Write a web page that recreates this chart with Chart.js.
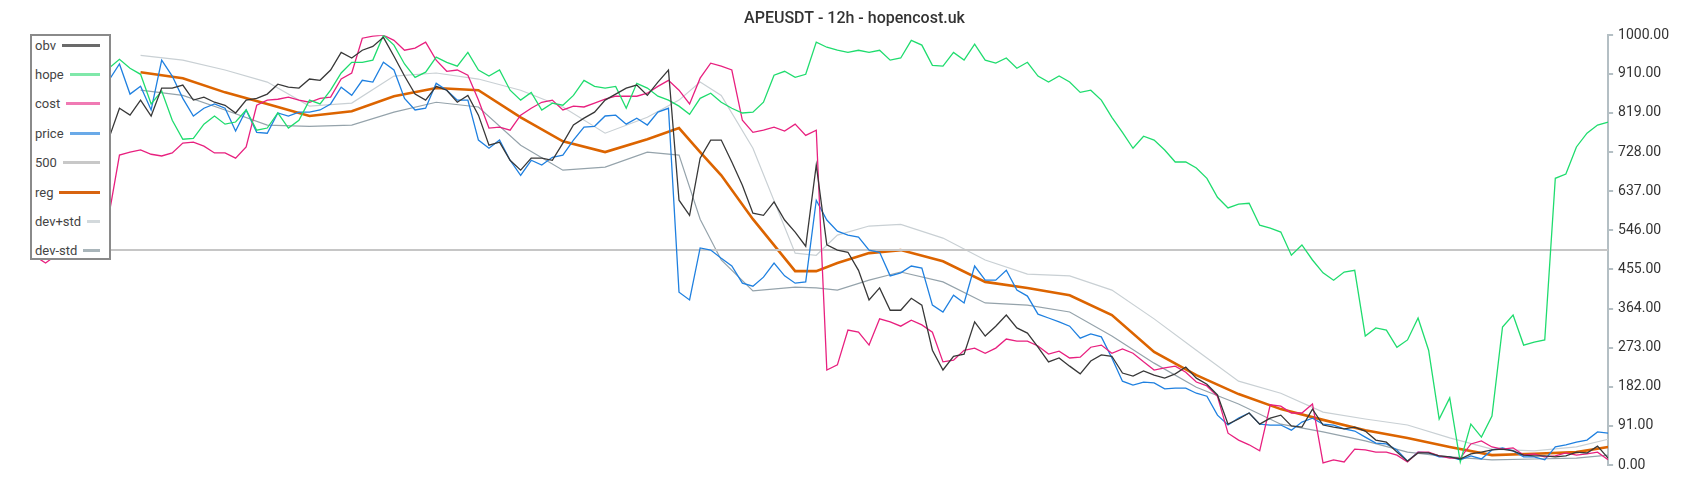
<!DOCTYPE html>
<html>
<head>
<meta charset="utf-8">
<script src="https://cdn.jsdelivr.net/npm/chart.js@4/dist/chart.umd.min.js"></script>
<style>
  body { margin: 0; background: #fff; }
  #wrap { position: relative; width: 1700px; height: 500px; }
  #legend { position: absolute; left: 30px; top: 34px; width: 77px; height: 222px; border: 2px solid #8a8a8a; background: #fff;
            font-family: Roboto, sans-serif; font-size: 13px; color: #444; }
  .row { position: absolute; left: 3px; right: 9px; height: 16px; display: flex; align-items: center; }
  .row .sw { flex: 1; margin-left: 6px; border-top: 3px solid; }
</style>
</head>
<body>
<div id="wrap">
  <canvas id="chart"></canvas>
  <div id="legend"></div>
</div>
<script>
// 12h candles, every second candle
const obv = [791,807,784,802,779,798,774,760,830,814,
  849,812,877,877,884,849,856,844,837,819,
  849,853,863,886,879,877,898,895,919,960,
  947,965,974,995,951,905,863,849,881,872,
  844,860,814,744,751,709,686,714,714,709,
  749,791,807,821,849,863,877,884,860,891,
  919,616,581,714,756,756,705,651,586,581,
  612,570,542,509,698,512,500,495,453,384,
  412,360,360,388,372,267,221,253,258,333,
  300,323,349,319,307,274,240,249,230,212,
  242,256,253,214,207,219,209,202,212,228,
  202,188,163,95,107,121,95,109,116,91,
  88,130,93,88,84,88,79,58,53,30,
  9,28,28,21,19,14,26,30,35,37,
  33,23,21,21,19,21,30,28,44,16];

const hope = [919,923,914,930,919,928,914,923,944,923,
  909,840,870,802,758,760,793,812,793,798,
  826,779,784,819,784,802,849,840,872,912,
  937,937,942,1000,977,933,902,914,949,937,
  928,960,919,905,919,872,849,867,826,842,
  837,860,895,881,877,881,830,888,877,858,
  849,835,816,853,865,844,830,819,821,844,
  907,916,902,909,984,972,965,960,965,960,
  965,942,947,988,977,930,928,960,942,979,
  942,935,947,923,937,905,891,905,891,867,
  872,849,809,774,737,765,756,733,705,705,
  691,667,623,598,607,609,558,551,542,488,
  512,477,447,430,449,453,300,319,314,274,
  291,342,267,107,156,7,95,65,114,321,
  349,279,286,291,667,677,740,772,791,798];

const cost = [486,470,488,481,495,486,500,581,721,728,
  733,723,719,726,749,751,742,726,726,714,
  740,837,849,851,856,849,844,853,856,898,
  912,993,998,1000,988,965,970,984,942,916,
  919,907,849,784,786,779,814,830,844,849,
  826,835,833,842,851,858,858,858,865,881,
  895,872,840,900,935,928,919,802,774,779,
  786,777,793,767,779,221,233,314,309,279,
  340,333,323,337,326,309,240,244,267,272,
  260,272,293,288,288,277,258,265,249,251,
  274,279,260,270,260,240,221,226,230,216,
  193,184,160,74,58,47,33,140,137,121,
  121,142,5,12,7,37,35,30,30,23,
  7,30,30,21,16,16,49,56,42,37,
  40,23,26,19,21,28,23,26,30,12];

const price = [900,884,907,891,872,895,881,895,933,863,
  881,826,942,905,853,812,830,840,830,777,
  826,774,772,819,812,821,821,826,840,879,
  860,895,891,937,919,853,826,830,888,872,
  849,849,756,737,756,709,674,709,698,716,
  721,756,786,788,812,814,793,807,791,821,
  830,402,384,505,500,481,463,423,416,437,
  470,440,423,426,616,570,544,535,530,500,
  495,440,447,463,458,372,356,395,377,463,
  430,430,453,407,393,351,342,333,323,295,
  305,298,249,195,186,193,191,177,179,179,
  167,160,116,93,109,121,95,93,93,81,
  100,109,95,93,84,79,65,51,49,35,
  9,30,28,19,19,12,21,14,35,40,
  33,19,19,12,42,47,53,58,77,74];

const level = 500;

// smooth series, read at these sample positions
const smoothIdx = [10,14,18,22,26,30,34,38,42,46,50,54,58,61,63,65,68,72,74,76,
  79,82,86,90,94,98,102,106,110,114,118,122,126,130,134,138,142,146,149];
const reg = [914,900,867,840,812,823,858,877,872,809,753,728,758,784,728,674,572,451,451,470,
  493,500,474,426,412,395,349,263,209,165,130,105,81,63,42,23,26,30,42];
const devUp = [953,942,919,891,835,842,905,912,898,872,833,772,809,849,891,860,737,493,488,535,
  556,560,528,477,444,440,407,340,267,195,167,123,107,93,63,37,33,42,60];
const devDn = [872,860,826,791,788,791,821,844,833,744,686,693,728,721,572,477,405,414,412,407,
  430,449,426,377,372,356,300,237,181,142,95,77,56,30,19,12,14,16,23];

const yTicks = [0,91,182,273,364,455,546,637,728,819,910,1000];

const names = ['obv','hope','cost','price','500','reg','dev+std','dev-std'];
const colors = ['#383838','#1fdc6e','#e8207f','#1f80e0','#c6c6c6','#dc6400','#c9d0d4','#95a3ab'];
const legendColors = ['#6a6a6a','#80e8aa','#f07ab4','#6aaae8','#c8c8c8','#d86410','#d3d9dc','#a9b5ba'];
const widths = [1.3,1.3,1.3,1.3,2,2.6,1.2,1.2];

const pts = (vals, idx) => vals.map((v, i) => ({ x: idx ? idx[i] : i, y: v }));
const last = obv.length - 1;

const series = [
  pts(obv), pts(hope), pts(cost), pts(price),
  [{ x: 0, y: level }, { x: last, y: level }],
  pts(reg, smoothIdx), pts(devUp, smoothIdx), pts(devDn, smoothIdx)
];

const datasets = series.map((d, i) => ({
  label: names[i],
  data: d,
  borderColor: colors[i],
  borderWidth: widths[i],
  pointRadius: 0,
  tension: 0,
  fill: false
}));

const legend = document.getElementById('legend');
names.forEach((n, i) => {
  const row = document.createElement('div');
  row.className = 'row';
  row.style.top = (45 + i * 29.4 - 44) + 'px';
  row.innerHTML = '<span>' + n + '</span><span class="sw" style="border-color:' + legendColors[i] + '"></span>';
  legend.appendChild(row);
});

new Chart(document.getElementById('chart'), {
  type: 'line',
  data: { datasets },
  options: {
    responsive: true,
    maintainAspectRatio: false,
    animation: false,
    layout: { padding: { left: 35, right: 26, top: 0, bottom: 35 } },
    plugins: {
      legend: { display: false },
      tooltip: { enabled: false },
      title: {
        display: true,
        text: 'APEUSDT - 12h - hopencost.uk',
        color: '#333',
        font: { family: 'Roboto', size: 16, weight: '500' },
        padding: { top: 9, bottom: 7 }
      }
    },
    scales: {
      x: { type: 'linear', min: 0, max: last, display: false },
      y: {
        position: 'right',
        min: 0,
        max: 1000,
        afterBuildTicks: s => { s.ticks = yTicks.map(v => ({ value: v })); },
        ticks: {
          color: '#333',
          font: { family: 'Roboto', size: 14 },
          padding: 5,
          callback: v => Number(v).toFixed(2)
        },
        grid: { drawOnChartArea: false, drawTicks: true, tickLength: 5, color: '#b4bfc4', lineWidth: 2 },
        border: { display: true, color: '#b4bfc4', width: 2 }
      }
    }
  }
});
</script>
</body>
</html>
